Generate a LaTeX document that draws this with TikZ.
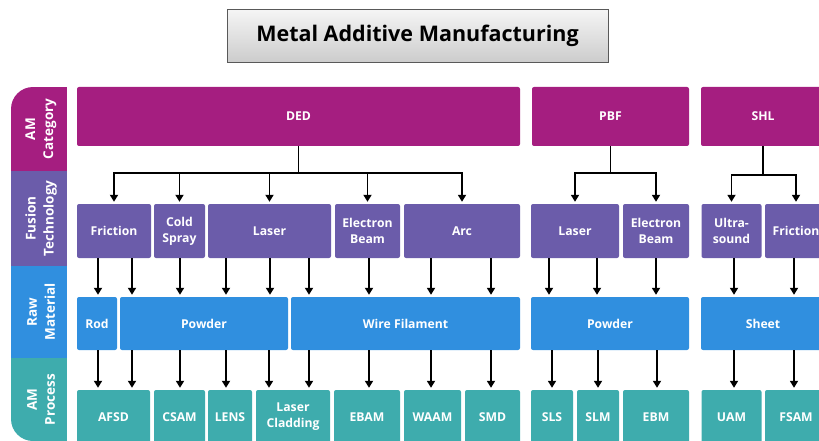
\documentclass[tikz,border=0pt]{standalone}
\usepackage{fontspec}
\setmainfont{Open Sans}
\usetikzlibrary{arrows.meta, shadows}

\definecolor{amcat}{RGB}{165,30,128}
\definecolor{fustech}{RGB}{107,92,170}
\definecolor{rawmat}{RGB}{48,143,223}
\definecolor{amproc}{RGB}{62,172,173}

\begin{document}
\begin{tikzpicture}[
        x=1pt, y=-1pt,
        box/.style={rectangle, rounded corners=2pt, text=white, inner sep=0pt,
                   font=\bfseries\fontsize{12.2}{16}\selectfont, align=center},
        cat/.style={box, fill=amcat, minimum height=59pt},
        fus/.style={box, fill=fustech, minimum height=54pt},
        raw/.style={box, fill=rawmat, minimum height=53pt},
        proc/.style={box, fill=amproc, minimum height=54pt},
        side/.style={text=white, rotate=90, align=center,
                   font=\bfseries\fontsize{13.5}{18}\selectfont},
        arrow/.style={-{Triangle[width=8pt,length=7pt]}, line width=1.7pt, shorten >=2pt}
    ]
    \useasboundingbox (0,0) rectangle (819,441);
    \clip (0,0) rectangle (819,441);

    % title
    \node[draw=gray!70!black, top color=gray!8, bottom color=gray!40,
          drop shadow={opacity=0.25, shadow xshift=1pt, shadow yshift=-1pt},
          minimum width=381pt, minimum height=53pt,
          font=\bfseries\fontsize{21.5}{25}\selectfont] (title) at (417.5,36) {Metal Additive Manufacturing};

    % left band with the row headings
    \begin{scope}
        \clip[rounded corners=22pt] (11,87) rectangle (120,441);
        \fill[amcat]   (11,87)  rectangle (67,171);
        \fill[fustech] (11,171) rectangle (67,266);
        \fill[rawmat]  (11,266) rectangle (67,358);
        \fill[amproc]  (11,358) rectangle (67,441);
    \end{scope}
    \node[side] (hcat)  at (41,129)   {AM\\Category};
    \node[side] (hfus)  at (41,218.5) {Fusion\\Technology};
    \node[side] (hraw)  at (41,312)   {Raw\\Material};
    \node[side] (hproc) at (41,399.5) {AM\\Process};

    % AM category
    \node[cat, minimum width=443pt] (ded) at (298.5,116.5) {DED};
    \node[cat, minimum width=157pt] (pbf) at (610.5,116.5) {PBF};
    \node[cat, minimum width=124pt] (shl) at (763,116.5)   {SHL};

    % fusion technology
    \node[fus, minimum width=74pt]  (fricD)  at (114,231)   {Friction};
    \node[fus, minimum width=51pt]  (cold)   at (179.5,231) {Cold\\Spray};
    \node[fus, minimum width=123pt] (laserD) at (269.5,231) {Laser};
    \node[fus, minimum width=65pt]  (ebD)    at (367.5,231) {Electron\\Beam};
    \node[fus, minimum width=116pt] (arc)    at (462,231)   {Arc};
    \node[fus, minimum width=88pt]  (laserP) at (575,231)   {Laser};
    \node[fus, minimum width=66pt]  (ebP)    at (656,231)   {Electron\\Beam};
    \node[fus, minimum width=60pt]  (ultra)  at (731.5,231) {Ultra-\\sound};
    \node[fus, minimum width=62pt]  (fricS)  at (796,231)   {Friction};

    % raw material
    \node[raw, minimum width=40pt]  (rod)   at (97,323.5)    {Rod};
    \node[raw, minimum width=168pt] (powD)  at (204,323.5)   {Powder};
    \node[raw, minimum width=229pt] (wire)  at (405.5,323.5) {Wire Filament};
    \node[raw, minimum width=158pt] (powP)  at (610,323.5)   {Powder};
    \node[raw, minimum width=124pt] (sheet) at (763,323.5)   {Sheet};

    % AM process
    \node[proc, minimum width=73pt] (afsd) at (113.5,417) {AFSD};
    \node[proc, minimum width=51pt] (csam) at (179.5,417) {CSAM};
    \node[proc, minimum width=44pt] (lens) at (230,417)   {LENS};
    \node[proc, minimum width=74pt] (clad) at (293,417)   {Laser\\Cladding};
    \node[proc, minimum width=66pt] (ebam) at (367,417)   {EBAM};
    \node[proc, minimum width=57pt] (waam) at (432.5,417) {WAAM};
    \node[proc, minimum width=55pt] (smd)  at (492.5,417) {SMD};
    \node[proc, minimum width=42pt] (sls)  at (552,417)   {SLS};
    \node[proc, minimum width=42pt] (slm)  at (598,417)   {SLM};
    \node[proc, minimum width=66pt] (ebm)  at (656,417)   {EBM};
    \node[proc, minimum width=60pt] (uam)  at (731.5,417) {UAM};
    \node[proc, minimum width=62pt] (fsam) at (796,417)   {FSAM};

    % category -> technology
    \foreach \t in {fricD, cold, laserD, ebD, arc}
        \draw[arrow] (ded.south) -- ++(0,27) -| (\t.north);
    \foreach \t in {laserP, ebP}
        \draw[arrow] (pbf.south) -- ++(0,27) -| (\t.north);
    \foreach \t in {ultra, fricS}
        \draw[arrow] (shl.south) -- ++(0,29) -| (\t.north);

    % technology -> material
    \foreach \a/\b/\x in {fricD/rod/98, fricD/powD/132, cold/powD/180, laserD/powD/226,
                          laserD/powD/270, laserD/wire/309, ebD/wire/369, arc/wire/431,
                          arc/wire/491, laserP/powP/549, laserP/powP/597, ebP/powP/656,
                          ultra/sheet/734, fricS/sheet/794}
        \draw[arrow] (\a.south -| \x,0) -- (\b.north -| \x,0);

    % material -> process
    \foreach \a/\b/\x in {rod/afsd/98, powD/afsd/132, powD/csam/180, powD/lens/226,
                          powD/clad/269, wire/clad/309, wire/ebam/369, wire/waam/431,
                          wire/smd/491, powP/sls/552, powP/slm/598, powP/ebm/657,
                          sheet/uam/734, sheet/fsam/794}
        \draw[arrow] (\a.south -| \x,0) -- (\b.north -| \x,0);

\end{tikzpicture}
\end{document}
